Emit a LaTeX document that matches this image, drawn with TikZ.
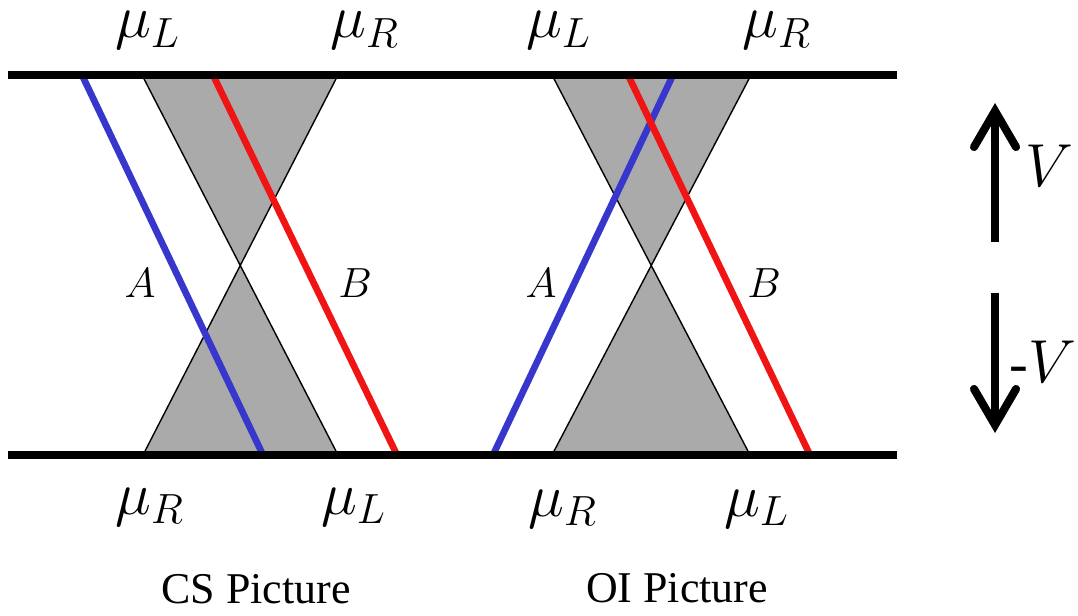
\documentclass[tikz,border=0pt]{standalone}
\usepackage[no-math]{fontspec}
\setmainfont{Liberation Serif}
\usepackage{amsmath, amssymb}
\usepackage{tikz}
\usetikzlibrary{arrows.meta}

\definecolor{coneGray}{RGB}{170,170,170}
\definecolor{pathBlue}{RGB}{55,55,205}
\definecolor{pathRed}{RGB}{240,20,20}

\tikzset{
  rail/.style={line width=2.1pt},
  cone/.style={fill=coneGray, draw=black, line width=0.4pt},
  pathA/.style={pathBlue, line width=1.9pt},
  pathB/.style={pathRed, line width=1.9pt},
  mulabel/.style={anchor=base, inner sep=0pt, font=\fontsize{18}{20}\selectfont},
  edgelabel/.style={anchor=base, inner sep=0pt, font=\fontsize{13}{15}\selectfont},
  biasarrow/.style={line width=2.3pt, -{Straight Barb[length=3.6mm,width=4.2mm,line cap=round]}},
}

\begin{document}
\begin{tikzpicture}
  \useasboundingbox (0,0) rectangle (10.78,6.15);

  % gray cones, CS then OI
  \draw[cone] (1.42,5.40) -- (3.38,5.40) -- (1.43,1.60) -- (3.38,1.60) -- cycle;
  \draw[cone] (5.52,5.40) -- (7.51,5.40) -- (5.52,1.60) -- (7.50,1.60) -- cycle;

  % edge paths
  \draw[pathA] (0.82,5.40) -- (2.63,1.60);
  \draw[pathB] (2.13,5.40) -- (3.97,1.60);
  \draw[pathA] (4.93,1.60) -- (6.73,5.40);
  \draw[pathB] (6.28,5.40) -- (8.10,1.60);

  % top and bottom leads
  \draw[rail] (0.08,5.40) -- (8.97,5.40);
  \draw[rail] (0.08,1.60) -- (8.97,1.60);

  % chemical potentials
  \node[mulabel] (csTopL) at (1.48,5.77) {$\mu_L$};
  \node[mulabel] (csTopR) at (3.65,5.77) {$\mu_R$};
  \node[mulabel] (oiTopL) at (5.59,5.77) {$\mu_L$};
  \node[mulabel] (oiTopR) at (7.77,5.77) {$\mu_R$};
  \node[mulabel] (csBotR) at (1.50,1.01) {$\mu_R$};
  \node[mulabel] (csBotL) at (3.54,1.01) {$\mu_L$};
  \node[mulabel] (oiBotR) at (5.63,0.99) {$\mu_R$};
  \node[mulabel] (oiBotL) at (7.57,0.99) {$\mu_L$};

  % edge names
  \node[edgelabel] (csA) at (1.40,3.17) {$A$};
  \node[edgelabel] (csB) at (3.55,3.17) {$B$};
  \node[edgelabel] (oiA) at (5.41,3.17) {$A$};
  \node[edgelabel] (oiB) at (7.64,3.17) {$B$};

  % captions
  \node[anchor=base, font=\fontsize{12.5}{14}\selectfont] (csCap) at (2.56,0.12) {CS Picture};
  \node[anchor=base, font=\fontsize{12.5}{14}\selectfont] (oiCap) at (6.77,0.13) {OI Picture};

  % bias arrows
  \coordinate (upFoot) at (9.95,3.73);
  \coordinate (upTip) at (9.95,5.12);
  \coordinate (downFoot) at (9.95,3.22);
  \coordinate (downTip) at (9.95,1.82);
  \draw[biasarrow] (upFoot) -- (upTip);
  \draw[biasarrow] (downFoot) -- (downTip);
  \node[anchor=base, font=\fontsize{16}{18}\selectfont] (plusV) at (10.49,4.28) {$V$};
  \node[anchor=base, font=\fontsize{16}{18}\selectfont] (minusV) at (10.43,2.33) {-$V$};
\end{tikzpicture}
\end{document}
